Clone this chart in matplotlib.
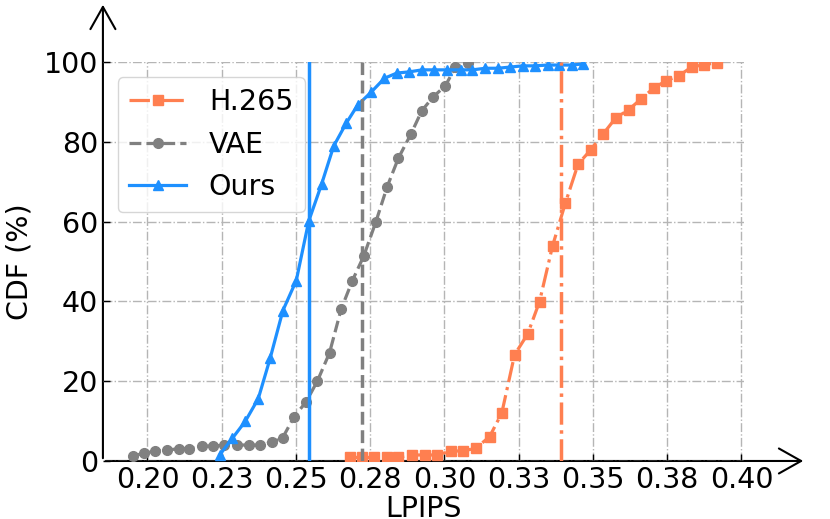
import matplotlib
matplotlib.use('Agg')
import matplotlib.pyplot as plt
from matplotlib.patches import FancyArrowPatch

# LPIPS values and CDF (%)
h265_x = [0.2682, 0.2722, 0.2764, 0.2805, 0.2843, 0.2892, 0.2933, 0.2976, 0.3022, 0.3062,
          0.3106, 0.3152, 0.3193, 0.3236, 0.3280, 0.3320, 0.3364, 0.3407, 0.3450, 0.3492,
          0.3535, 0.3576, 0.3620, 0.3662, 0.3704, 0.3747, 0.3789, 0.3832, 0.3875, 0.3918]
h265_y = [0.9, 0.9, 0.9, 0.9, 0.9, 1.5, 1.5, 1.5, 2.5, 2.5,
          3.2, 6.1, 12.0, 26.6, 31.8, 39.9, 53.9, 64.6, 74.4, 77.9,
          82.0, 85.9, 88.0, 90.7, 93.4, 95.3, 96.5, 98.7, 99.3, 99.8]

vae_x = [0.1950, 0.1988, 0.2027, 0.2066, 0.2105, 0.2141, 0.2182, 0.2221, 0.2259, 0.2301,
         0.2341, 0.2380, 0.2419, 0.2455, 0.2494, 0.2534, 0.2572, 0.2613, 0.2652, 0.2690,
         0.2728, 0.2769, 0.2807, 0.2845, 0.2887, 0.2924, 0.2963, 0.3003, 0.3037, 0.3079]
vae_y = [1.3, 1.9, 2.5, 2.7, 3.1, 3.1, 3.7, 3.8, 3.9, 4.0,
         4.0, 4.0, 4.7, 5.8, 11.1, 14.8, 20.0, 27.1, 38.0, 45.2,
         51.3, 59.9, 68.7, 75.9, 81.9, 87.8, 91.3, 94.0, 98.7, 99.8]

ours_x = [0.2244, 0.2286, 0.2329, 0.2373, 0.2413, 0.2456, 0.2501, 0.2543, 0.2586, 0.2627,
          0.2669, 0.2708, 0.2753, 0.2798, 0.2840, 0.2882, 0.2925, 0.2966, 0.3009, 0.3054,
          0.3094, 0.3138, 0.3180, 0.3221, 0.3263, 0.3305, 0.3347, 0.3387, 0.3428, 0.3468]
ours_y = [1.6, 5.7, 9.9, 15.6, 25.7, 37.7, 45.2, 60.1, 69.3, 78.9,
          84.6, 89.2, 92.4, 95.9, 97.2, 97.5, 98.0, 98.0, 98.0, 98.0,
          98.0, 98.4, 98.4, 98.7, 99.0, 99.0, 99.2, 99.2, 99.2, 99.5]

# median LPIPS of each method
medians = {'H.265': 0.3391, 'VAE': 0.2723, 'Ours': 0.2543}

xticks = [0.2, 0.225, 0.25, 0.275, 0.3, 0.325, 0.35, 0.375, 0.4]
xticklabels = ['0.20', '0.23', '0.25', '0.28', '0.30', '0.33', '0.35', '0.38', '0.40']
yticks = [0, 20, 40, 60, 80, 100]

fs = 20.5
fig = plt.figure(figsize=(8.3, 5.19), dpi=100)
ax = fig.add_axes([0.124, 0.1118, 0.7729, 0.769])

ax.plot(h265_x, h265_y, color='coral', linestyle='-.', marker='s', lw=2.3, ms=7, label='H.265')
ax.plot(vae_x, vae_y, color='gray', linestyle='--', marker='o', lw=2.3, ms=7, label='VAE')
ax.plot(ours_x, ours_y, color='dodgerblue', linestyle='-', marker='^', lw=2.3, ms=7, label='Ours')

ax.axvline(medians['H.265'], color='coral', linestyle='-.', lw=2.5)
ax.axvline(medians['VAE'], color='gray', linestyle='--', lw=2.5)
ax.axvline(medians['Ours'], color='dodgerblue', linestyle='-', lw=2.5)

ax.set_xlim(0.185, 0.401)
ax.set_ylim(0, 100)
ax.set_xticks(xticks)
ax.set_xticklabels(xticklabels)
ax.set_yticks(yticks)
ax.tick_params(direction='in', labelsize=fs, length=5, width=1)
ax.grid(True, linestyle='-.', color='#b5b5b5', lw=1)
for s in ax.spines.values():
    s.set_visible(False)

# axes drawn as arrows
for end in [(1.096, 0), (0, 1.15)]:
    arr = FancyArrowPatch((0, 0), end, transform=ax.transAxes, clip_on=False,
                          arrowstyle='->,head_length=0.8,head_width=0.45',
                          mutation_scale=20, lw=1.5, color='black')
    ax.add_patch(arr)

ax.set_xlabel('LPIPS', fontsize=fs, labelpad=1)
ax.set_ylabel('CDF (%)', fontsize=fs, labelpad=7)
ax.legend(loc='upper left', bbox_to_anchor=(0.023, 0.962), borderaxespad=0, fontsize=fs)

plt.savefig('out.png', dpi=100)
